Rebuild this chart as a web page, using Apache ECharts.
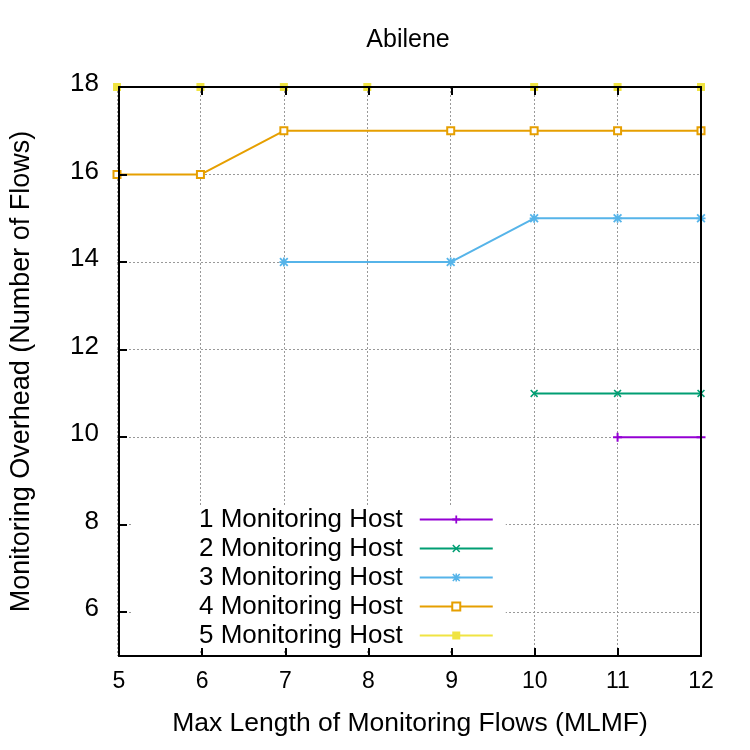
<!DOCTYPE html>
<html>
<head>
<meta charset="utf-8">
<script src="https://cdn.jsdelivr.net/npm/echarts@6/dist/echarts.min.js"></script>
<style>
    html, body {margin: 0; padding: 0; background: #fff;}
    #main {width: 750px; height: 750px;}
</style>
</head>
<body>
<div id="main"></div>
<script>
// 数据
let seriesNames = ['1 Monitoring Host', '2 Monitoring Host', '3 Monitoring Host', '4 Monitoring Host', '5 Monitoring Host']
let host1X = [11, 12]
let host1Y = [10, 10]
let host2X = [10, 11, 12]
let host2Y = [11, 11, 11]
let host3X = [7, 9, 10, 11, 12]
let host3Y = [14, 14, 15, 15, 15]
let host4X = [5, 6, 7, 9, 10, 11, 12]
let host4Y = [16, 16, 17, 17, 17, 17, 17]
let host5X = [5, 6, 7, 8, 10, 11, 12]
let host5Y = [18, 18, 18, 18, 18, 18, 18]
let yTickValues = [6, 8, 10, 12, 14, 16, 18]
let yGridValues = [6, 8, 10, 12, 14, 16]

const FONT = 'Liberation Sans'
const colors = ['#9400d3', '#009e73', '#56b4e9', '#e69f00', '#f0e442']
// gnuplot 点型
const plusPath = 'path://M3.5,0H5.5V9H3.5ZM0,3.5H9V5.5H0Z'
const crossPath = 'path://M0,1.4L1.4,0L5,3.6L8.6,0L10,1.4L6.4,5L10,8.6L8.6,10L5,6.4L1.4,10L0,8.6L3.6,5Z'
const starPath = 'path://M4,0H6V10H4ZM0,4H10V6H0ZM0,1.4L1.4,0L5,3.6L8.6,0L10,1.4L6.4,5L10,8.6L8.6,10L5,6.4L1.4,10L0,8.6L3.6,5Z'
const symbols = [plusPath, crossPath, starPath, 'emptyRect', 'rect']
const symbolSizes = [9, 8, 9, 7, 8]

function zip(xs, ys) {
    return xs.map((v, i) => [v, ys[i]])
}
let allData = [zip(host1X, host1Y), zip(host2X, host2Y), zip(host3X, host3Y), zip(host4X, host4Y), zip(host5X, host5Y)]

let series = []
allData.forEach((d, i) => {
    series.push({
        name: seriesNames[i],
        type: 'line',
        xAxisIndex: 0,
        yAxisIndex: 0,
        data: d,
        symbol: symbols[i],
        symbolSize: symbolSizes[i],
        showAllSymbol: true,
        lineStyle: {color: colors[i], width: 2},
        itemStyle: {color: colors[i], borderColor: colors[i], borderWidth: symbols[i] == 'emptyRect' ? 2 : 0},
        emphasis: {disabled: true},
        animation: false
    })
})

const dotted = {color: '#999', width: 1, type: [2, 2]}
const axisBlack = {color: '#000', width: 2}
const gridRect = {left: 117, right: 49, top: 87, bottom: 94}

let myChart = echarts.init(document.getElementById('main'))
let option = {
    backgroundColor: '#fff',
    animation: false,
    title: {
        text: 'Abilene',
        left: 408,
        top: 28,
        padding: 0,
        textAlign: 'center',
        textStyle: {fontFamily: FONT, fontSize: 25, fontWeight: 'normal', color: '#000'}
    },
    legend: {
        orient: 'vertical',
        align: 'right',
        left: 131,
        top: 505,
        padding: [0, 12, 0, 68],
        backgroundColor: '#fff',
        itemWidth: 73,
        itemHeight: 10,
        itemGap: 0,
        data: seriesNames,
        // 下边距把文字略微上移
        textStyle: {fontFamily: FONT, fontSize: 26, color: '#000', lineHeight: 19, padding: [0, 12, 10, 0]}
    },
    grid: [
        Object.assign({}, gridRect),
        Object.assign({}, gridRect)
    ],
    xAxis: [
        {
            // 网格线
            type: 'value', gridIndex: 0, min: 5, max: 12, interval: 1,
            axisLine: {show: false}, axisTick: {show: false}, axisLabel: {show: false},
            splitLine: {show: true, lineStyle: dotted}
        },
        {
            type: 'value', gridIndex: 1, position: 'bottom', min: 5, max: 12, interval: 1, z: 10,
            name: 'Max Length of Monitoring Flows (MLMF)',
            nameLocation: 'middle',
            nameGap: 54,
            nameTextStyle: {fontFamily: FONT, fontSize: 26.5, color: '#000'},
            axisLine: {show: true, onZero: false, lineStyle: axisBlack},
            axisTick: {show: true, inside: true, length: 8, lineStyle: axisBlack},
            axisLabel: {fontFamily: FONT, fontSize: 23, color: '#000', margin: 14},
            splitLine: {show: false}
        },
        {
            type: 'value', gridIndex: 1, position: 'top', min: 5, max: 12, interval: 1, z: 10,
            axisLine: {show: true, onZero: false, lineStyle: axisBlack},
            axisTick: {show: true, inside: true, length: 8, lineStyle: axisBlack},
            axisLabel: {show: false},
            splitLine: {show: false}
        }
    ],
    yAxis: [
        {
            type: 'value', gridIndex: 0, min: 5, max: 18,
            axisLine: {show: false},
            axisTick: {show: false, customValues: yGridValues},
            axisLabel: {show: false},
            splitLine: {show: true, lineStyle: dotted}
        },
        {
            type: 'value', gridIndex: 1, position: 'left', min: 5, max: 18, z: 10,
            name: 'Monitoring Overhead (Number of Flows)',
            nameLocation: 'middle',
            nameGap: 84,
            nameTextStyle: {fontFamily: FONT, fontSize: 27, color: '#000'},
            axisLine: {show: true, onZero: false, lineStyle: axisBlack},
            axisTick: {show: true, inside: true, length: 8, lineStyle: axisBlack, customValues: yTickValues},
            axisLabel: {fontFamily: FONT, fontSize: 26, color: '#000', margin: 20, verticalAlign: 'bottom', lineHeight: 6, customValues: yTickValues},
            splitLine: {show: false}
        },
        {
            type: 'value', gridIndex: 1, position: 'right', min: 5, max: 18, z: 10,
            axisLine: {show: true, onZero: false, lineStyle: axisBlack},
            axisTick: {show: false},
            axisLabel: {show: false},
            splitLine: {show: false}
        }
    ],
    series: series
}
myChart.setOption(option)
</script>
</body>
</html>
